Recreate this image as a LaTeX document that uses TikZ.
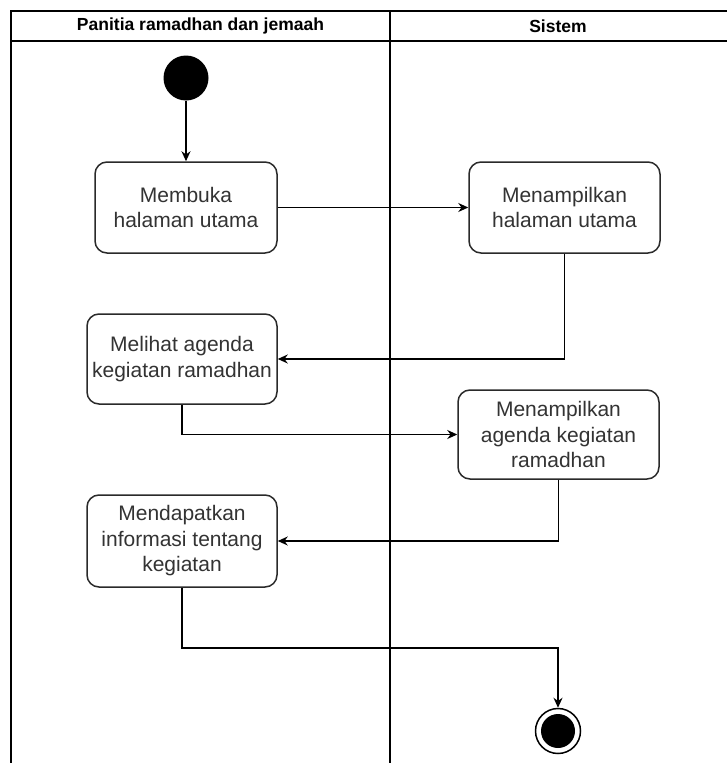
\documentclass[tikz,border=0pt]{standalone}
\usepackage{fontspec}
\setmainfont{Liberation Sans}
\usetikzlibrary{arrows.meta}
\definecolor{txt}{HTML}{333333}
\definecolor{edge}{HTML}{2A2A2A}
\begin{document}
\begin{tikzpicture}[x=1pt,y=-1pt,
  act/.style={draw=edge,line width=1.5pt,rounded corners=12pt,fill=white,
    align=center,text=txt,font=\fontsize{21}{25.5}\selectfont,inner sep=0pt},
  flow/.style={draw=black,line width=1.4pt,-{Stealth[length=10pt,width=9pt]}},
  lane/.style={draw=black,line width=1.8pt},
  hdr/.style={font=\fontsize{17.5}{19}\selectfont\bfseries,text=black}]
\useasboundingbox (0,0) rectangle (727,763);
% swimlanes
\draw[lane] (11,763) -- (11,11) -- (727,11);
\draw[lane] (11,41) -- (727,41);
\draw[lane] (390,11) -- (390,763);
\node[hdr] (h1) at (200.5,26) {Panitia ramadhan dan jemaah};
\node[hdr] (h2) at (558,26) {Sistem};
% nodes
\node[circle,fill=black,minimum size=45pt,inner sep=0pt] (start) at (186,78) {};
\node[act,minimum width=182pt,minimum height=91pt] (b1) at (186,207.5) {Membuka\\halaman utama};
\node[act,minimum width=191pt,minimum height=91pt] (b2) at (564.5,207.5) {Menampilkan\\halaman utama};
\node[act,minimum width=190pt,minimum height=90pt] (b3) at (182,359) {Melihat agenda\\kegiatan ramadhan};
\node[act,minimum width=201pt,minimum height=89pt] (b4) at (558.5,434.5) {Menampilkan\\agenda kegiatan\\ramadhan};
\node[act,minimum width=190pt,minimum height=92pt] (b5) at (182,541) {Mendapatkan\\informasi tentang\\kegiatan};
\node[circle,draw=black,line width=1.5pt,fill=white,minimum size=45pt,inner sep=0pt] (end) at (558,731) {};
\node[circle,fill=black,minimum size=34pt,inner sep=0pt] (endin) at (end.center) {};
\coordinate (c1) at (182,648);
\coordinate (c2) at (558,648);
% connectors
\draw[flow] (start) -- (b1);
\draw[flow] (b1) -- (b2);
\draw[flow] (b2.south) |- (b3.east);
\draw[flow] (b3.south) |- (b4.west);
\draw[flow] (b4.south) |- (b5.east);
\draw[flow] (b5.south) -- (c1) -- (c2) -- (end.north);
\end{tikzpicture}
\end{document}
